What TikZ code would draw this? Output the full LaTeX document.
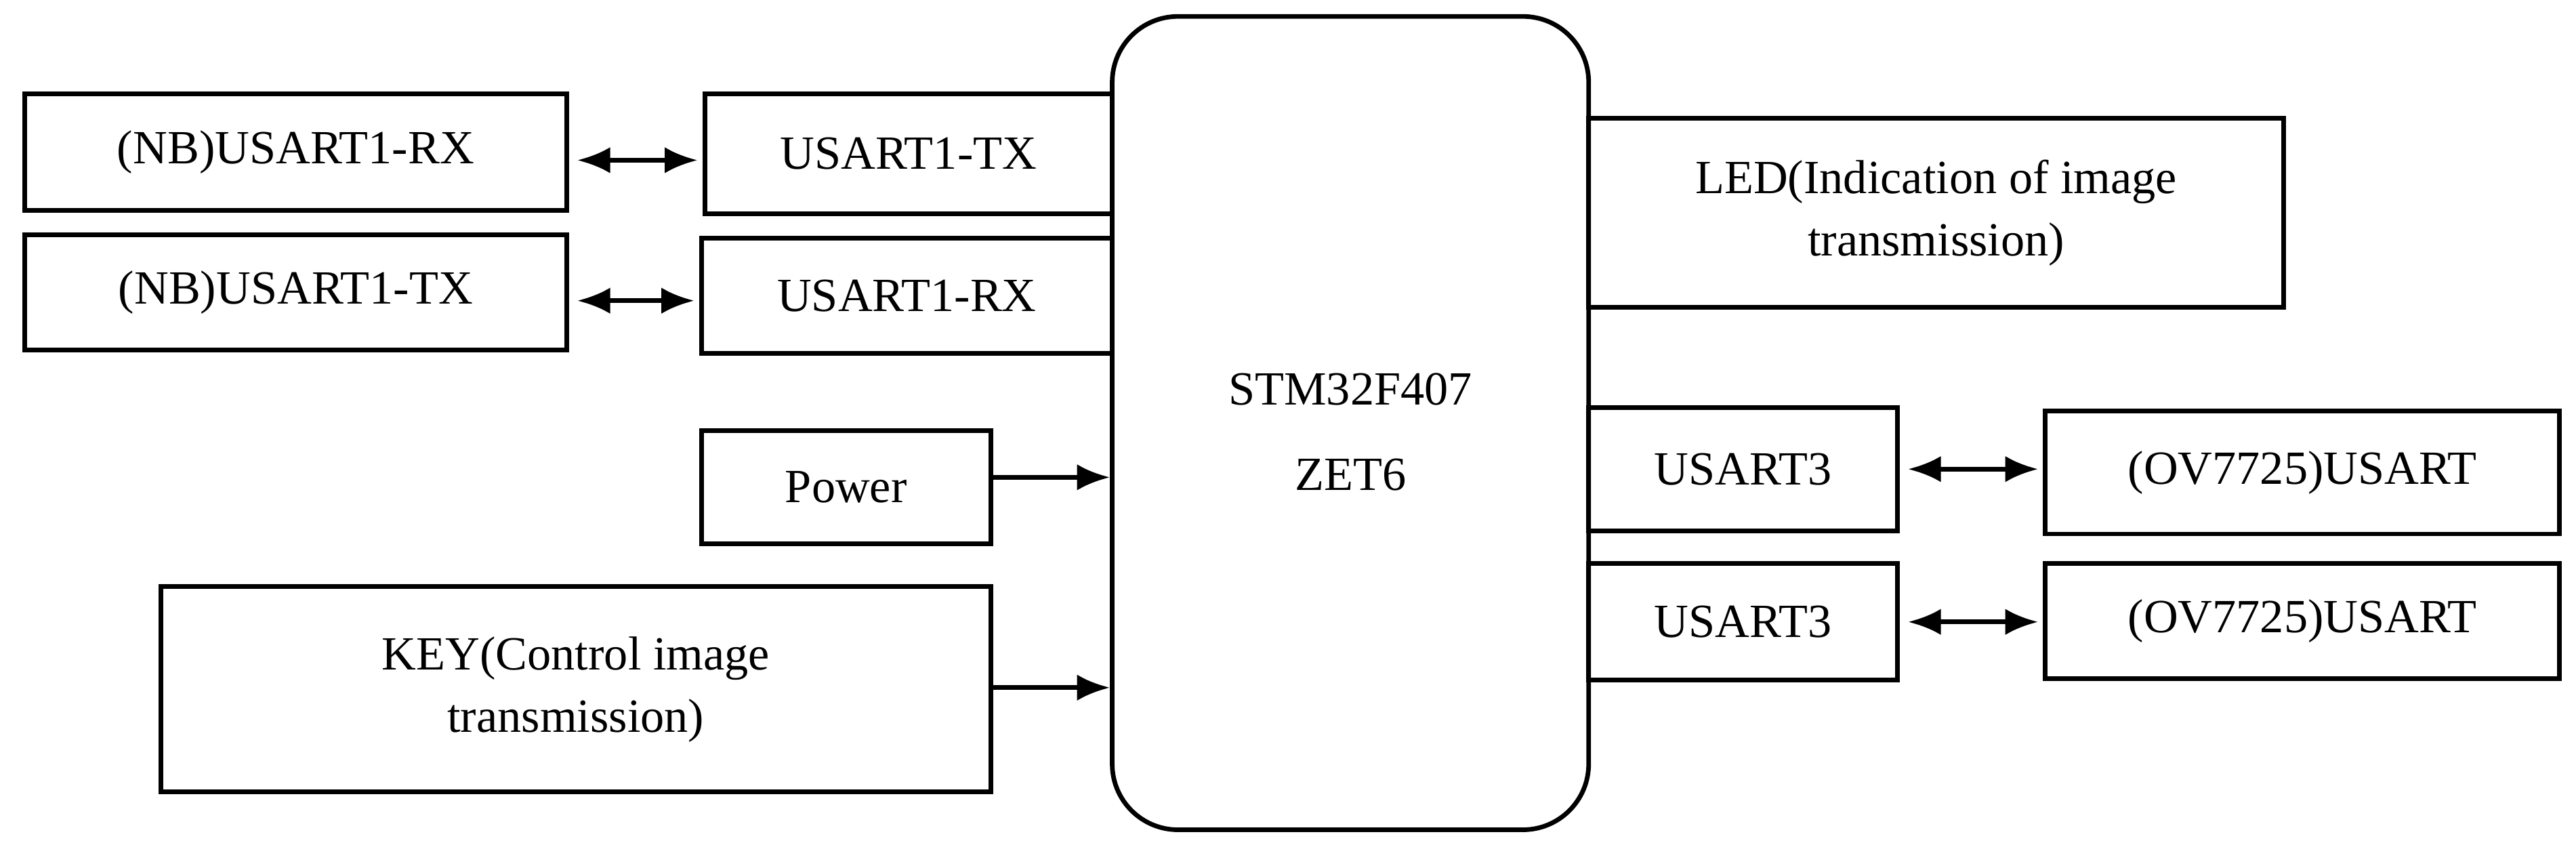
\documentclass[tikz,border=0pt]{standalone}
\usepackage{fontspec}
\setmainfont{Liberation Serif}
\usetikzlibrary{arrows.meta}
\begin{document}
\begin{tikzpicture}[x=1pt,y=-1pt,
  box/.style={draw,line width=2.8pt,inner sep=0pt,align=center,font=\fontsize{29}{38}\selectfont},
  arr/.style={line width=2.8pt,-{Latex[length=20pt,width=16pt]}},
  darr/.style={line width=2.8pt,{Latex[length=20pt,width=16pt]}-{Latex[length=20pt,width=16pt]},shorten <=5pt,shorten >=3pt}]
\useasboundingbox (0,0) rectangle (1568,514);
\node[box,rounded corners=40pt,minimum width=290pt,minimum height=495pt] (stm) at (822,257.5) {};
\node[font=\fontsize{29}{38}\selectfont,align=center] (stmt) at (822,263) {STM32F407\\[14pt]ZET6};
\node[box,minimum width=330pt,minimum height=71pt] (nbrx) at (180,92.5) {(NB)USART1-RX};
\node[box,minimum width=248pt,minimum height=73pt] (utx) at (553,93.5) {USART1-TX};
\node[box,minimum width=330pt,minimum height=70pt] (nbtx) at (180,178) {(NB)USART1-TX};
\node[box,minimum width=250pt,minimum height=70pt] (urx) at (552,180) {USART1-RX};
\node[box,minimum width=176pt,minimum height=69pt] (pow) at (515,296.5) {Power};
\node[box,minimum width=505pt,minimum height=125pt] (key) at (350.5,419.5) {KEY(Control image\\transmission)};
\node[box,minimum width=423pt,minimum height=115pt] (led) at (1178.5,129.5) {LED(Indication of image\\transmission)};
\node[box,minimum width=188pt,minimum height=75pt] (u3a) at (1061,285.5) {USART3};
\node[box,minimum width=313pt,minimum height=75pt] (ova) at (1401.5,287.5) {(OV7725)USART};
\node[box,minimum width=188pt,minimum height=71pt] (u3b) at (1061,378.5) {USART3};
\node[box,minimum width=313pt,minimum height=70pt] (ovb) at (1401.5,378) {(OV7725)USART};
\draw[darr] ([yshift=-5pt]nbrx.east) -- ([yshift=-5pt]nbrx.east -| utx.west);
\draw[darr] ([yshift=-5pt]nbtx.east) -- ([yshift=-5pt]nbtx.east -| urx.west);
\draw[arr] ([yshift=6pt]pow.east) -- ([yshift=6pt]pow.east -| stm.west);
\draw[arr] ([yshift=1pt]key.east) -- ([yshift=1pt]key.east -| stm.west);
\draw[darr] (u3a.east) -- (u3a.east -| ova.west);
\draw[darr] (u3b.east) -- (u3b.east -| ovb.west);
\end{tikzpicture}
\end{document}
